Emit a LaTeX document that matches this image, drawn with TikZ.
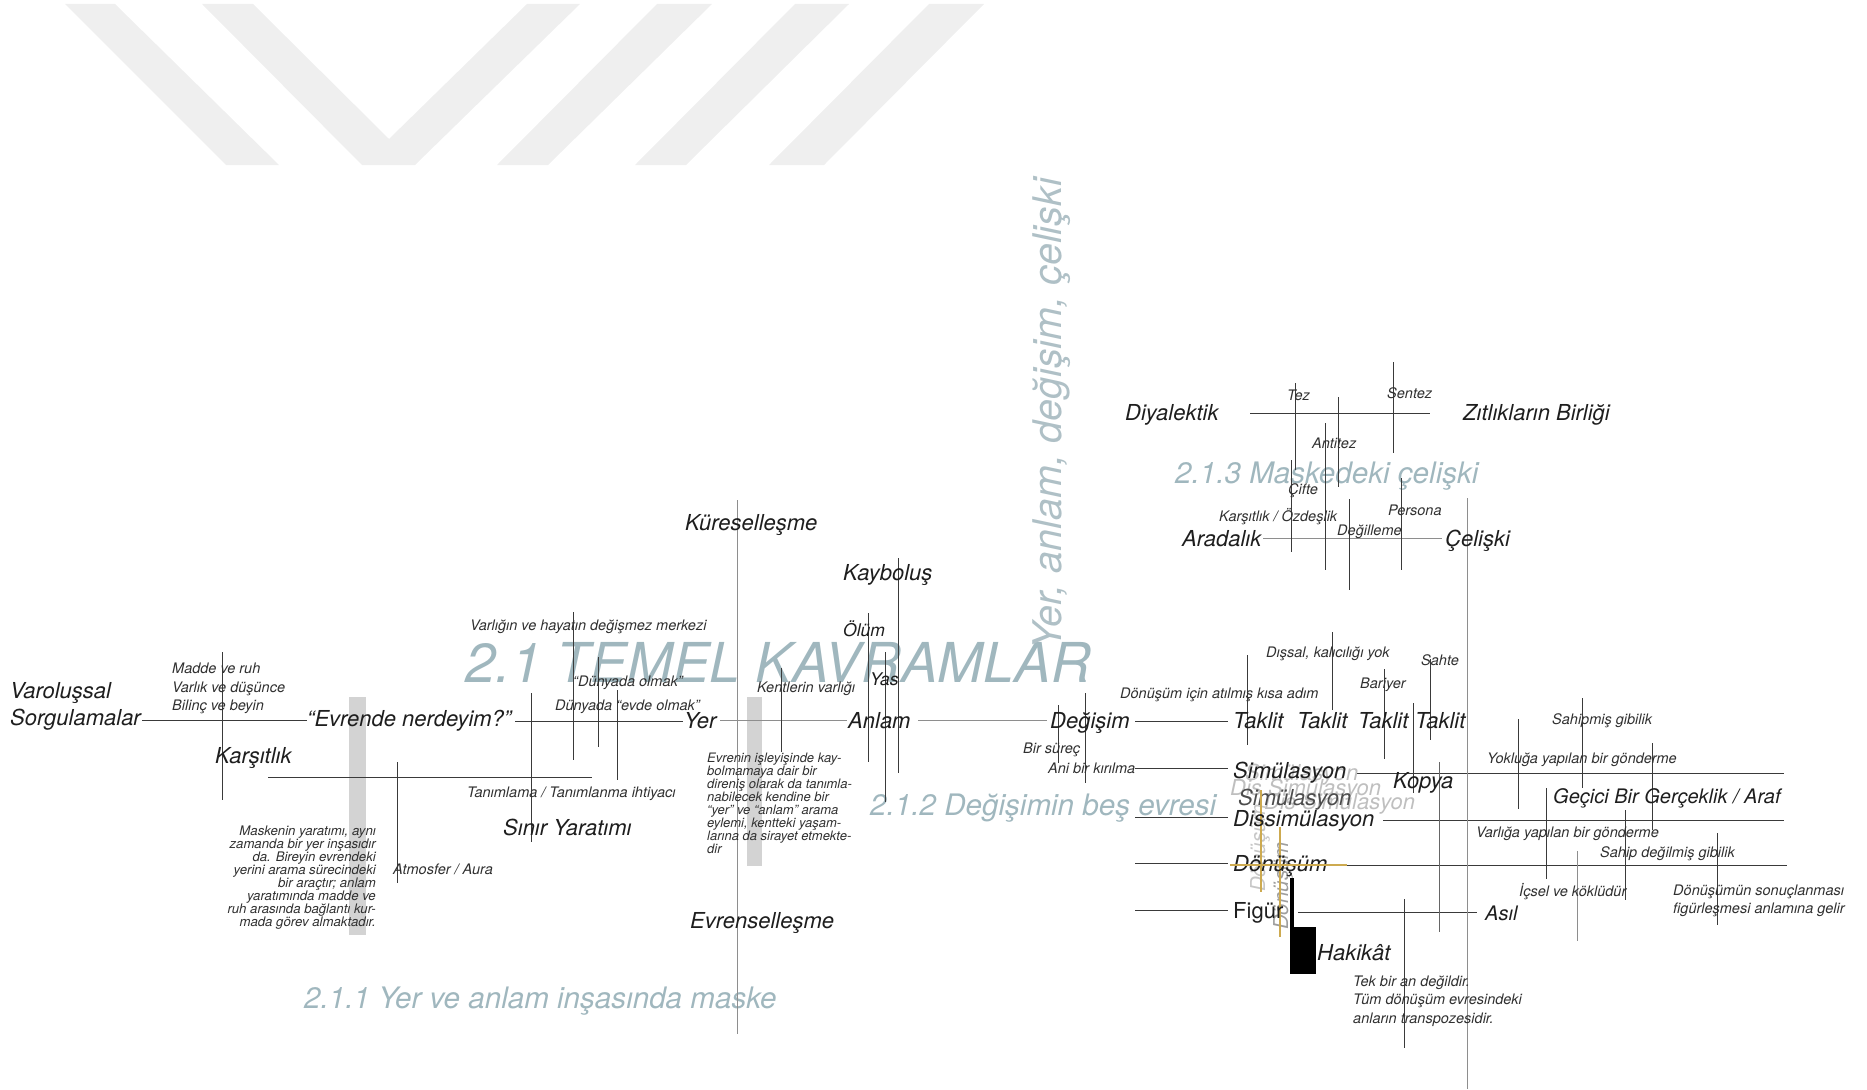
\documentclass[tikz,border=0pt]{standalone}
\usepackage{fontspec}
\setmainfont{TeX Gyre Heros}
\definecolor{ink}{HTML}{1E1E1E}
\definecolor{ink2}{HTML}{303030}
\definecolor{lnc}{HTML}{3A3A3A}
\definecolor{ttl}{RGB}{160,183,190}
\definecolor{ttl2}{RGB}{175,192,198}
\definecolor{wm}{HTML}{EFEFEF}
\definecolor{barc}{HTML}{D3D3D3}
\definecolor{gold}{RGB}{205,170,80}
\definecolor{lgrey}{HTML}{8E8E8E}
\begin{document}
\begin{tikzpicture}[x=1pt,y=-1pt,
  big/.style={font=\fontsize{22}{26}\selectfont\itshape, text=ink, inner sep=0pt, anchor=base west},
  mid/.style={font=\fontsize{17.5}{21}\selectfont\itshape, text=ink, inner sep=0pt, anchor=base west},
  sml/.style={font=\fontsize{14.5}{18}\selectfont\itshape, text=ink2, inner sep=0pt, anchor=base west},
  parl/.style={font=\fontsize{13.2}{13}\selectfont\itshape, text=ink2, inner sep=0pt, anchor=base east},
  parr/.style={font=\fontsize{13}{13}\selectfont\itshape, text=ink2, inner sep=0pt, anchor=base west},
  sec/.style={font=\fontsize{29.6}{34}\selectfont\itshape, text=ttl, inner sep=0pt, anchor=base west},
  ghost/.style={font=\fontsize{22}{26}\selectfont\itshape, text=black!25, inner sep=0pt, anchor=base west},
  ln/.style={draw=lnc, line width=0.95pt},
  gln/.style={draw=lgrey, line width=0.95pt},
  goldln/.style={draw=gold, line width=2.8pt},
]
\useasboundingbox (0,0) rectangle (1867,1089);

% watermark
\fill[wm] (65,4) -- (115,4) -- (279,165) -- (226,165) -- cycle;
\fill[wm] (202,4) -- (253,4) -- (389,139) -- (527,4) -- (580,4) -- (415,165) -- (362,165) -- cycle;
\fill[wm] (657,4) -- (712,4) -- (548,165) -- (497,165) -- cycle;
\fill[wm] (795,4) -- (849,4) -- (686,165) -- (635,165) -- cycle;
\fill[wm] (929,4) -- (984,4) -- (824,165) -- (769,165) -- cycle;

% grey bars
\fill[barc] (349,697) rectangle (366,935);
\fill[barc] (747,697) rectangle (762,866);

% section titles
\node[sec, font=\fontsize{55}{60}\selectfont\itshape] (t21) at (465,682) {2.1 TEMEL KAVRAMLAR};
\node[sec, font=\fontsize{39.5}{44}\selectfont\itshape, text=ttl2, rotate=90] (tv) at (1061,650) {Yer, anlam, değişim, çelişki};
\node[sec] (t211) at (304,1008) {2.1.1 Yer ve anlam inşasında maske};
\node[sec] (t212) at (870,815) {2.1.2 Değişimin beş evresi};
\node[sec] (t213) at (1175,483) {2.1.3 Maskedeki çelişki};

% horizontal lines
\draw[ln] (142,720) -- (307,720);
\draw[ln] (515,721) -- (683,721);
\draw[gln] (720,720) -- (847,720);
\draw[gln] (918,720) -- (1047,720);
\draw[ln] (268,777) -- (592,777);
\draw[ln] (1250,413) -- (1430,413);
\draw[gln] (1263,538) -- (1442,538);
\draw[ln] (1135,721) -- (1228,721);
\draw[ln] (1135,768) -- (1228,768);
\draw[ln] (1357,773) -- (1784,773);
\draw[ln] (1135,817) -- (1228,817);
\draw[ln] (1383,820) -- (1784,820);
\draw[ln] (1135,863) -- (1228,863);
\draw[ln] (1347,865) -- (1787,865);
\draw[ln] (1135,910) -- (1228,910);
\draw[ln] (1298,912) -- (1477,912);

% vertical lines
\draw[ln] (222,652) -- (222,800);
\draw[ln] (397,762) -- (397,883);
\draw[ln] (531,693) -- (531,842);
\draw[ln] (573,612) -- (573,760);
\draw[ln] (598,657) -- (598,747);
\draw[ln] (617,690) -- (617,780);
\draw[gln] (737,500) -- (737,1034);
\draw[ln] (781,668) -- (781,752);
\draw[ln] (868,613) -- (868,762);
\draw[ln] (885,652) -- (885,802);
\draw[ln] (898,558) -- (898,773);
\draw[ln] (1058,705) -- (1058,763);
\draw[ln] (1085,693) -- (1085,783);
\draw[ln] (1295,383) -- (1295,470);
\draw[ln] (1291,460) -- (1291,552);
\draw[ln] (1338,397) -- (1338,487);
\draw[ln] (1325,423) -- (1325,570);
\draw[ln] (1393,362) -- (1393,453);
\draw[ln] (1349,499) -- (1349,590);
\draw[ln] (1401,478) -- (1401,570);
\draw[gln] (1467,498) -- (1467,1089);
\draw[ln] (1247,655) -- (1247,745);
\draw[ln] (1332,632) -- (1332,710);
\draw[ln] (1384,669) -- (1384,759);
\draw[ln] (1430,659) -- (1430,740);
\draw[ln] (1413,703) -- (1413,793);
\draw[gln, draw=black!60] (1439,762) -- (1439,932);
\draw[ln] (1518,719) -- (1518,809);
\draw[ln] (1582,698) -- (1582,788);
\draw[ln] (1652,743) -- (1652,830);
\draw[ln] (1546,788) -- (1546,879);
\draw[ln] (1625,810) -- (1625,900);
\draw[ln] (1717,833) -- (1717,925);
\draw[gln] (1577,851) -- (1577,941);
\draw[ln] (1404,899) -- (1404,1048);

% paragraph 1 (right aligned)
\node[parl] (pa1) at (376,835) {Maskenin yaratımı, aynı};
\node[parl] (pa2) at (376,848) {zamanda bir yer inşasıdır};
\node[parl] (pa3) at (376,861) {da. Bireyin evrendeki};
\node[parl] (pa4) at (376,874) {yerini arama sürecindeki};
\node[parl] (pa5) at (376,887) {bir araçtır; anlam};
\node[parl] (pa6) at (376,900) {yaratımında madde ve};
\node[parl] (pa7) at (376,913) {ruh arasında bağlantı kur-};
\node[parl] (pa8) at (376,926) {mada görev almaktadır.};

% paragraph 2 (left aligned)
\node[parr] (pb1) at (707,762) {Evrenin işleyişinde kay-};
\node[parr] (pb2) at (707,775) {bolmamaya dair bir};
\node[parr] (pb3) at (707,788) {direniş olarak da tanımla-};
\node[parr] (pb4) at (707,801) {nabilecek kendine bir};
\node[parr] (pb5) at (707,814) {“yer” ve “anlam” arama};
\node[parr] (pb6) at (707,827) {eylemi, kentteki yaşam-};
\node[parr] (pb7) at (707,840) {larına da sirayet etmekte-};
\node[parr] (pb8) at (707,853) {dir};

% ghost overlaps (Simülasyon area)
\node[ghost] (gs1) at (1245,780) {Simülasyon};
\node[ghost] (gs2) at (1230,795) {Dis Simülasyon};
\node[ghost] (gs3) at (1264,809) {Dis Simülasyon};
\node[ghost, text=black!70] (gs4) at (1238,805) {Simülasyon};

% gold lines and rotated ghost words
\node[ghost, font=\fontsize{20.5}{24}\selectfont\itshape, text=black!22, rotate=90] (gd1) at (1265,892) {Dönüşüm};
\node[ghost, font=\fontsize{20.5}{24}\selectfont\itshape, text=black!38, rotate=90] (gd2) at (1288,930) {Dönüşüm};
\draw[goldln] (1261,790) -- (1261,892);
\draw[goldln] (1280,827) -- (1280,937);

% main labels
\node[big] (varol) at (10,698) {Varoluşsal};
\node[big] (sorg) at (10,725) {Sorgulamalar};
\node[big] (evr) at (307,726) {“Evrende nerdeyim?”};
\node[big] (kars) at (215,763) {Karşıtlık};
\node[big] (sinir) at (503,835) {Sınır Yaratımı};
\node[big] (yer) at (684,728) {Yer};
\node[big] (kure) at (685,530) {Küreselleşme};
\node[big] (evrs) at (690,928) {Evrenselleşme};
\node[big] (kayb) at (843,580) {Kayboluş};
\node[mid] (olum) at (843,636) {Ölüm};
\node[mid] (yas) at (870,685) {Yas};
\node[big] (anlam) at (848,728) {Anlam};
\node[big] (degis) at (1050,728) {Değişim};
\node[big] (diyal) at (1125,420) {Diyalektik};
\node[big] (zit) at (1463,420) {Zıtlıkların Birliği};
\node[big] (arad) at (1182,546) {Aradalık};
\node[big] (celis) at (1445,546) {Çelişki};
\node[big] (tak1) at (1233,728) {Taklit};
\node[big] (tak2) at (1297,728) {Taklit};
\node[big] (tak3) at (1358,728) {Taklit};
\node[big] (tak4) at (1415,728) {Taklit};
\node[big] (simu) at (1233,778) {Simülasyon};
\node[big] (dissim) at (1233,826) {Dissimülasyon};
\node[big] (kopya) at (1393,788) {Kopya};
\node[big] (donus) at (1233,871) {Dönüşüm};
\node[big, font=\fontsize{22}{26}\selectfont] (figur) at (1233,918) {Figür};
\node[big] (hakikat) at (1317,960) {Hakikât};
\node[big, font=\fontsize{20}{24}\selectfont\itshape] (asil) at (1485,920) {Asıl};
\node[big, font=\fontsize{20}{24}\selectfont\itshape] (gecici) at (1553,803) {Geçici Bir Gerçeklik / Araf};

% gold horizontal over Dönüşüm
\draw[goldln] (1230,865) -- (1347,865);

% black marker
\fill[black] (1290,878) rectangle (1294,930);
\fill[black] (1290,927) rectangle (1316,974);

% small labels
\node[sml] (madde) at (172,673) {Madde ve ruh};
\node[sml] (varlik) at (172,692) {Varlık ve düşünce};
\node[sml] (bilinc) at (172,710) {Bilinç ve beyin};
\node[sml] (atmos) at (393,874) {Atmosfer / Aura};
\node[sml] (tanim) at (467,797) {Tanımlama / Tanımlanma ihtiyacı};
\node[sml] (merkez) at (470,630) {Varlığın ve hayatın değişmez merkezi};
\node[sml] (dolmak) at (573,686) {“Dünyada olmak”};
\node[sml] (devde) at (555,710) {Dünyada “evde olmak”};
\node[sml] (kent) at (757,692) {Kentlerin varlığı};
\node[sml] (surec) at (1023,753) {Bir süreç};
\node[sml] (ani) at (1048,773) {Ani bir kırılma};
\node[sml] (tez) at (1287,400) {Tez};
\node[sml] (sentez) at (1387,398) {Sentez};
\node[sml] (antitez) at (1312,448) {Antitez};
\node[sml] (cifte) at (1288,494) {Çifte};
\node[sml] (ozdes) at (1219,521) {Karşıtlık / Özdeşlik};
\node[sml] (degil) at (1337,535) {Değilleme};
\node[sml] (persona) at (1388,515) {Persona};
\node[sml] (adim) at (1120,698) {Dönüşüm için atılmış kısa adım};
\node[sml] (dissal) at (1266,657) {Dışsal, kalıcılığı yok};
\node[sml] (bariyer) at (1360,688) {Bariyer};
\node[sml] (sahte) at (1421,665) {Sahte};
\node[sml] (sahip) at (1552,724) {Sahipmiş gibilik};
\node[sml] (yokluk) at (1487,763) {Yokluğa yapılan bir gönderme};
\node[sml] (varliga) at (1476,837) {Varlığa yapılan bir gönderme};
\node[sml] (sahipd) at (1600,857) {Sahip değilmiş gibilik};
\node[sml] (icsel) at (1519,896) {İçsel ve köklüdür};
\node[sml] (sonuc1) at (1673,895) {Dönüşümün sonuçlanması};
\node[sml] (sonuc2) at (1673,913) {figürleşmesi anlamına gelir};
\node[sml] (tek1) at (1353,986) {Tek bir an değildir.};
\node[sml] (tek2) at (1353,1004) {Tüm dönüşüm evresindeki};
\node[sml] (tek3) at (1353,1023) {anların transpozesidir.};
\end{tikzpicture}
\end{document}
